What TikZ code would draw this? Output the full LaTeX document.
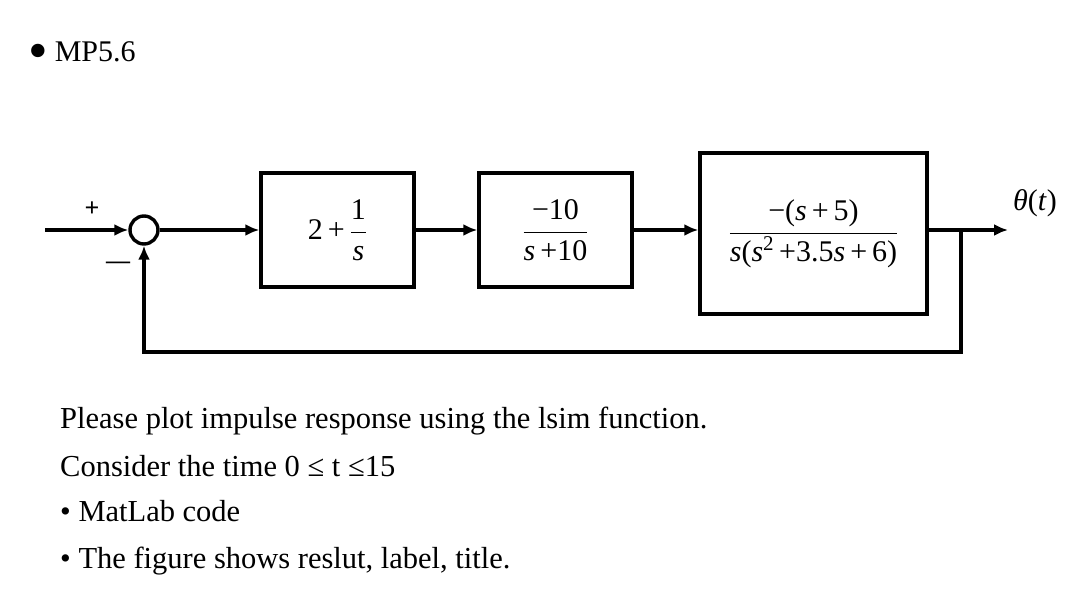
\RequirePackage{fix-cm}
\documentclass[tikz,border=0pt]{standalone}
\usepackage{fontspec}
\setmainfont{Liberation Serif}
\usetikzlibrary{arrows.meta,positioning}
\newcommand{\sv}{\textit{s}}
\newcommand{\mt}[1]{\textrm{#1}}
\tikzset{
  block/.style={rectangle, draw, line width=3.4pt, minimum width=153pt, minimum height=114pt, inner sep=0pt, font=\fontsize{30}{36}\selectfont},
  sig/.style={-{Latex[length=14pt,width=12pt]}, line width=3.4pt},
  txt/.style={anchor=base west, inner sep=0pt, font=\fontsize{30.5}{36}\selectfont},
}
\begin{document}
\begin{tikzpicture}[x=1pt, y=-1pt]
    \useasboundingbox (0,0) rectangle (1088,596);

    \node[circle, draw, line width=3.4pt, minimum size=28pt, inner sep=0pt] (sum) at (144,230) {};
    \node[block] (b1) at (337.5,230) {2\,+\,$\displaystyle\frac{\mt{1}}{\sv}$};
    \node[block] (b2) at (555.5,230) {$\displaystyle\frac{\mt{−10}}{\mt{\sv\,+10}}$};
    \node[block, minimum width=227pt, minimum height=161pt] (b3) at (813.5,233.5) {$\displaystyle\frac{\mt{−(\sv\,+\,5)}}{\mt{\sv(\sv\textsuperscript{2}\,+3.5\sv\,+\,6)}}$};

    \coordinate (in) at (45,230);
    \coordinate (br) at (961,230);
    \coordinate (out) at (1008,230);
    \coordinate (fb) at (961,352);

    \node[inner sep=0pt, font=\fontsize{26}{26}\bfseries] (plus) at (92,209) {+};
    \node[inner sep=0pt, font=\fontsize{24}{24}\bfseries] (minus) at (118,265) {—};
    \node[inner sep=0pt, font=\fontsize{30}{36}\selectfont] (theta) at (1035,203) {\textit{θ}(\textit{t})};

    \draw[sig] (in) -- (sum.west);
    \draw[sig] (sum.east) -- (b1.west);
    \draw[sig] (b1.east) -- (b2.west);
    \draw[sig] (b2.east) -- (b2.east -| b3.west);
    \draw[sig] (b2.east -| b3.east) -- (out);
    \draw[sig] (br) -- (fb) -| (sum.south);

    \node[txt, font=\fontsize{30}{36}\selectfont] (title) at (28,62) {\raisebox{-8pt}{\fontsize{56}{56}\selectfont •}\hspace{7pt}MP5.6};
    \node[txt] (plot) at (60,428) {Please plot impulse response using the lsim function.};
    \node[txt] (time) at (60,476) {Consider the time 0 ≤ t ≤15};
    \node[txt] (code) at (60,521) {• MatLab code};
    \node[txt] (fig) at (60,568) {• The figure shows reslut, label, title.};
\end{tikzpicture}
\end{document}
